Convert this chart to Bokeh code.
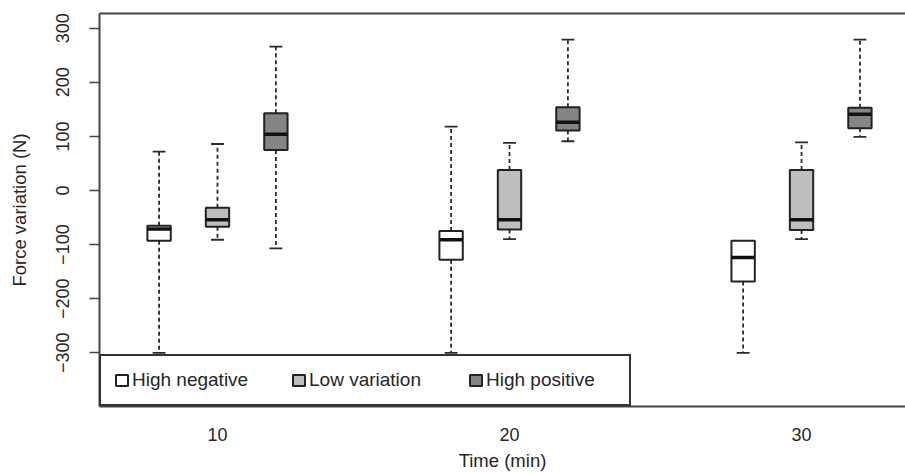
from bokeh.plotting import figure
from bokeh.models import ColumnDataSource, Range1d, FixedTicker, LinearAxis, Legend, LegendItem
from bokeh.embed import file_html
from bokeh.resources import INLINE

# ---- data ----
times = [10, 20, 30]
categories = ["High negative", "Low variation", "High positive"]
fills = ["#FFFFFF", "#BEBEBE", "#858585"]

hn_lower = [-300, -300, -300]
hn_q1 = [-93, -128, -168]
hn_median = [-71, -91, -124]
hn_q3 = [-65, -75, -93]
hn_upper = [72, 118, -93]

lv_lower = [-91, -90, -90]
lv_q1 = [-67, -72, -73]
lv_median = [-54, -54, -54]
lv_q3 = [-32, 38, 38]
lv_upper = [86, 88, 89]

hp_lower = [-107, 91, 99]
hp_q1 = [75, 111, 115]
hp_median = [104, 126, 141]
hp_q3 = [143, 154, 153]
hp_upper = [266, 279, 279]

y_ticks = [-300, -200, -100, 0, 100, 200, 300]

series = [
    (hn_lower, hn_q1, hn_median, hn_q3, hn_upper),
    (lv_lower, lv_q1, lv_median, lv_q3, lv_upper),
    (hp_lower, hp_q1, hp_median, hp_q3, hp_upper),
]

FONT = "Liberation Sans"
TXT = "#262626"
LINE = "#444444"
BOX_W = 0.4
CAP_W = 0.22

p = figure(width=905, height=473, output_backend="svg", toolbar_location=None,
           x_range=Range1d(-0.02, 13.78), y_range=Range1d(-399.3, 327.2),
           min_border_left=99, min_border_right=0, min_border_top=13, min_border_bottom=66,
           background_fill_color="white", border_fill_color="white")
p.outline_line_color = None
p.xgrid.visible = False
p.ygrid.visible = False

group_centers = [2 + 5 * g for g in range(len(times))]

renderers = []
for k, (lo, q1, med, q3, up) in enumerate(series):
    xs = [1 + 5 * g + k for g in range(len(times))]
    src = ColumnDataSource(dict(
        x=xs,
        cl=[x - CAP_W / 2 for x in xs], cr=[x + CAP_W / 2 for x in xs],
        bl=[x - BOX_W / 2 for x in xs], br=[x + BOX_W / 2 for x in xs],
        lo=lo, q1=q1, med=med, q3=q3, up=up))
    # whiskers
    p.segment(x0="x", y0="q3", x1="x", y1="up", source=src, line_color="#2a2a2a",
              line_width=1.8, line_dash="4 3")
    p.segment(x0="x", y0="q1", x1="x", y1="lo", source=src, line_color="#2a2a2a",
              line_width=1.8, line_dash="4 3")
    # caps
    p.segment(x0="cl", y0="up", x1="cr", y1="up", source=src, line_color="#2a2a2a",
              line_width=1.8)
    p.segment(x0="cl", y0="lo", x1="cr", y1="lo", source=src, line_color="#2a2a2a",
              line_width=1.8)
    # box
    r = p.vbar(x="x", bottom="q1", top="q3", width=BOX_W, source=src,
               fill_color=fills[k], line_color="#222222", line_width=2)
    renderers.append(r)
    # median
    p.segment(x0="bl", y0="med", x1="br", y1="med", source=src, line_color="#111111",
              line_width=3.5)

# ---- axes ----
xa = p.xaxis[0]
xa.ticker = FixedTicker(ticks=group_centers)
xa.major_label_overrides = {c: str(t) for c, t in zip(group_centers, times)}
xa.axis_label = "Time (min)"
xa.major_tick_out = 0
xa.major_tick_in = 0
xa.minor_tick_out = 0
xa.minor_tick_in = 0
xa.major_label_standoff = 21
xa.axis_label_standoff = 6
xa.axis_line_color = LINE
xa.axis_line_width = 2

ya = p.yaxis[0]
ya.ticker = FixedTicker(ticks=y_ticks)
ya.axis_label = "Force variation (N)"
ya.major_label_orientation = "vertical"
ya.major_tick_out = 10
ya.major_tick_in = 0
ya.minor_tick_out = 0
ya.minor_tick_in = 0
ya.major_tick_line_color = LINE
ya.major_tick_line_width = 1.5
ya.major_label_standoff = 20
ya.axis_label_standoff = 24
ya.axis_line_color = LINE
ya.axis_line_width = 2

for ax in (xa, ya):
    ax.major_label_text_font = FONT
    ax.major_label_text_font_size = "18px"
    ax.major_label_text_color = TXT
    ax.axis_label_text_font = FONT
    ax.axis_label_text_font_size = "18.5px"
    ax.axis_label_text_font_style = "normal"
    ax.axis_label_text_color = TXT

top = LinearAxis(ticker=FixedTicker(ticks=[]), major_label_text_font_size="0px",
                 major_tick_out=0, major_tick_in=0, minor_tick_out=0, minor_tick_in=0,
                 major_label_standoff=0, axis_line_color=LINE, axis_line_width=2)
p.add_layout(top, "above")

# ---- legend ----
legend = Legend(items=[LegendItem(label=c, renderers=[r]) for c, r in zip(categories, renderers)],
                orientation="horizontal", location="bottom_left", margin=0,
                padding=13, spacing=29, label_standoff=3, glyph_width=15, glyph_height=14,
                label_width=130, label_height=14,
                border_line_color="#333333", border_line_width=2, border_line_alpha=1,
                background_fill_color="white", background_fill_alpha=1,
                label_text_font=FONT, label_text_font_size="19px", label_text_color=TXT)
p.add_layout(legend)

open("out.html", "w").write(file_html(p, INLINE))
